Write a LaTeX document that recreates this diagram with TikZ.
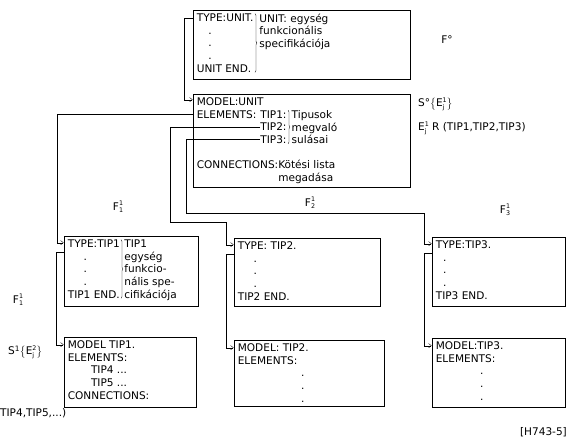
\documentclass[tikz,border=0pt]{standalone}
\usepackage{amsmath}
\usepackage{fontspec}
\setmainfont{DejaVu Sans}
\usetikzlibrary{arrows.meta,positioning,calc,fit,decorations.pathreplacing}
\newcommand{\supsub}[3]{#1\raisebox{-3.5pt}{\fontsize{9}{9}\selectfont\shortstack[l]{#2\\#3}}}

\begin{document}
\begin{tikzpicture}[x=0.05cm, y=-0.05cm, font=\fontsize{15}{18}\selectfont, >={Straight Barb[length=4pt,width=6pt]}]
\tikzstyle{blk}=[draw, line width=0.9pt, inner sep=0pt]
\tikzstyle{txt}=[inner sep=0pt, anchor=north west, align=left]
\tikzstyle{lbl}=[inner sep=0pt]
\tikzstyle{wire}=[->, line width=0.5pt]
\tikzstyle{br}=[decorate, decoration={brace, amplitude=2.5pt}, line width=0.5pt]
\useasboundingbox (0,0) rectangle (580,441);

% unit
\node[blk, fit={(193,10) (410,79)}] (unit) {};
\node[txt] (unitL) at ([shift={(4,4)}]unit.north west) {TYPE:UNIT.\\\hspace*{1.1em}.\\\hspace*{1.1em}.\\\hspace*{1.1em}.\\UNIT END.};
\draw[br] ([xshift=2pt]unitL.north east) -- ([xshift=2pt]unitL.south east);
\node[txt] (unitR) at ([xshift=8pt]unitL.north east) {UNIT: egység\\funkcionális\\specifikációja};

\node[blk, fit={(193,94) (410,187)}] (model) {};
\node[txt] (modelL) at ([shift={(4,4)}]model.north west) {MODEL:UNIT\\ELEMENTS:\\\mbox{}\\\mbox{}\\\mbox{}\\CONNECTIONS:Kötési lista\\\phantom{CONNECTIONS:}megadása};
\node[lbl, anchor=base east] (tipA) at ([shift={(90,20.4)}]modelL.north west) {TIP1:};
\node[lbl, anchor=base east] (tipB) at ([shift={(90,33.1)}]modelL.north west) {TIP2:};
\node[lbl, anchor=base east] (tipC) at ([shift={(90,45.8)}]modelL.north west) {TIP3:};
\draw[br] ([xshift=2pt]tipA.north east) -- ([xshift=2pt]tipC.south east);
\node[txt] (tipR) at ([xshift=7pt]tipA.north east) {Tipusok\\megvaló\\sulásai};

% first level
\node[blk, fit={(64,236) (198,306)}] (t1type) {};
\node[txt] (t1L) at ([shift={(4,4)}]t1type.north west) {TYPE:TIP1\\\hspace*{1.5em}.\\\hspace*{1.5em}.\\\hspace*{1.5em}.\\TIP1 END.};
\draw[br] ([xshift=1.5pt]t1L.north east) -- ([xshift=1.5pt]t1L.south east);
\node[txt] (t1R) at ([xshift=6pt]t1L.north east) {TIP1\\egység\\funkcio-\\nális spe-\\cifikációja};
\node[blk, fit={(64,337) (196,407)}] (t1model) {};
\node[txt] (t1M) at ([shift={(4,4)}]t1model.north west) {MODEL TIP1.\\ELEMENTS:\\\hspace*{2.2em}TIP4 ...\\\hspace*{2.2em}TIP5 ...\\CONNECTIONS:};

\node[blk, fit={(234,238) (380,306)}] (t2type) {};
\node[txt] (t2L) at ([shift={(4,4)}]t2type.north west) {TYPE: TIP2.\\\hspace*{1.5em}.\\\hspace*{1.5em}.\\\hspace*{1.5em}.\\TIP2 END.};
\node[blk, fit={(234,340) (384,406)}] (t2model) {};
\node[txt] (t2M) at ([shift={(4,4)}]t2model.north west) {MODEL: TIP2.\\ELEMENTS:\\\hspace*{6em}.\\\hspace*{6em}.\\\hspace*{6em}.};

\node[blk, fit={(432,237) (565,306)}] (t3type) {};
\node[txt] (t3L) at ([shift={(4,4)}]t3type.north west) {TYPE:TIP3.\\\hspace*{0.7em}.\\\hspace*{0.7em}.\\\hspace*{0.7em}.\\TIP3 END.};
\node[blk, fit={(432,338) (565,407)}] (t3model) {};
\node[txt] (t3M) at ([shift={(4,4)}]t3model.north west) {MODEL:TIP3.\\ELEMENTS:\\\hspace*{4.2em}.\\\hspace*{4.2em}.\\\hspace*{4.2em}.};

% labels
\node[lbl] (f0) at (447,40) {F°};
\node[lbl, anchor=west] (s0) at (418,104) {S°$\left\{\text{\supsub{E}{1}{j}}\right\}$};
\node[lbl, anchor=west] (e1) at (418,128) {\supsub{E}{1}{j} R (TIP1,TIP2,TIP3)};
\node[lbl] (f1) at (118,207) {\supsub{F}{1}{1}};
\node[lbl] (f2) at (310,203) {\supsub{F}{1}{2}};
\node[lbl] (f3) at (505,210) {\supsub{F}{1}{3}};
\node[lbl] (f1b) at (18,300) {\supsub{F}{1}{1}};
\node[lbl, anchor=west] (s1) at (8,352) {S\textsuperscript{1}$\left\{\text{\supsub{E}{2}{j}}\right\}$};
\node[lbl, anchor=west] (rest) at (0,413) {TIP4,TIP5,...)};
\node[lbl, anchor=east] (code) at (567,432) {[H743-5]};

% wires
\coordinate (in0) at ([shift={(0,6)}]model.north west);
\draw[wire] ([shift={(0,8)}]unit.north west) -| ([shift={(-9,0)}]in0) -- (in0);
\coordinate (inA) at ([shift={(0,7)}]t1type.north west);
\draw[wire] (model.west |- tipA) -| ([shift={(-7,0)}]inA) -- (inA);
\coordinate (cB) at (170,222);
\coordinate (inB) at ([shift={(0,7)}]t2type.north west);
\draw[wire] (tipB.west) -| (cB) -| ([shift={(-8,0)}]inB) -- (inB);
\coordinate (cC) at (186,213);
\coordinate (inC) at ([shift={(0,7)}]t3type.north west);
\draw[wire] (tipC.west) -| (cC) -| ([shift={(-8,0)}]inC) -- (inC);
\foreach \n in {1,2,3}{
  \draw[wire] ([shift={(0,16)}]t\n type.north west) -| ([shift={(-8,8)}]t\n model.north west) -- ([shift={(0,8)}]t\n model.north west);
}
\end{tikzpicture}
\end{document}
